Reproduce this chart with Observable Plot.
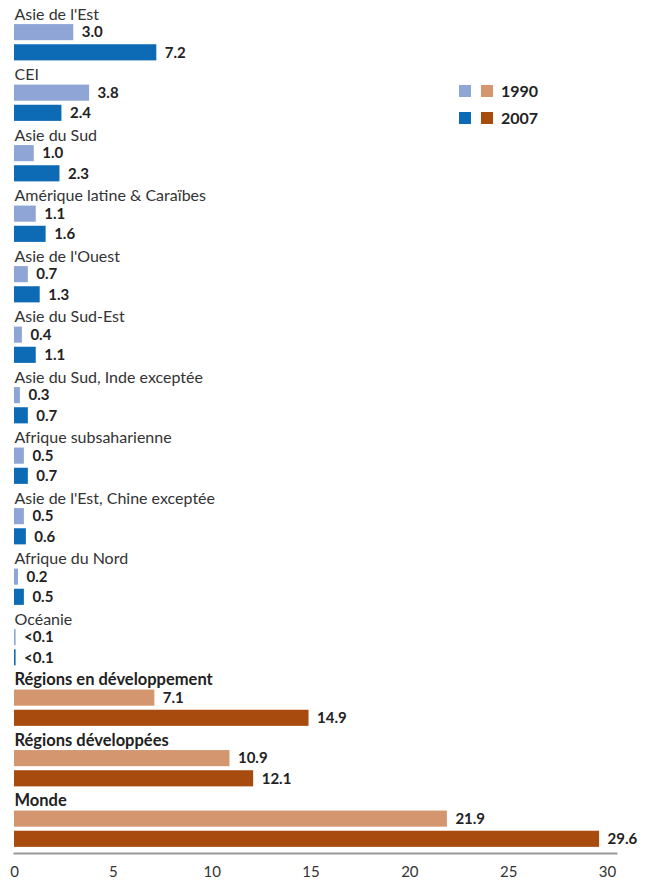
<!DOCTYPE html>
<html><head><meta charset="utf-8">
<script src="https://cdn.jsdelivr.net/npm/d3@7"></script>
<script src="https://cdn.jsdelivr.net/npm/@observablehq/plot@0.6"></script>
<style>
body{margin:0;background:#fff;}
#wrap{position:relative;width:646px;height:884px;font-family:Lato,"Open Sans",sans-serif;}
.lg{position:absolute;display:flex;align-items:center;font-weight:bold;font-size:16px;color:#222;}
.sw{width:12px;height:12px;display:inline-block;margin-right:10px;}
</style>
</head><body><div id="wrap"></div>
<script>
const regions = ["Asie de l'Est","CEI","Asie du Sud","Amérique latine & Caraïbes","Asie de l'Ouest","Asie du Sud-Est","Asie du Sud, Inde exceptée","Afrique subsaharienne","Asie de l'Est, Chine exceptée","Afrique du Nord","Océanie","Régions en développement","Régions développées","Monde"];
const aggregate = [false,false,false,false,false,false,false,false,false,false,false,true,true,true];
const v1990 = [3.0,3.8,1.0,1.1,0.7,0.4,0.3,0.5,0.5,0.2,0.08,7.1,10.9,21.9];
const v2007 = [7.2,2.4,2.3,1.6,1.3,1.1,0.7,0.7,0.6,0.5,0.08,14.9,12.1,29.6];
const l1990 = ["3.0","3.8","1.0","1.1","0.7","0.4","0.3","0.5","0.5","0.2","<0.1","7.1","10.9","21.9"];
const l2007 = ["7.2","2.4","2.3","1.6","1.3","1.1","0.7","0.7","0.6","0.5","<0.1","14.9","12.1","29.6"];
const years = ["1990","2007"];
const xTicks = [0,5,10,15,20,25,30];

const colorDomain = ["r1990","r2007","a1990","a2007"];
const colorRange = ["#8fa5d5","#0d6ab4","#d3966e","#a84b0f"];

const rows = regions.map((name,i)=>({g:i,name,agg:aggregate[i]}));
const bars = [];
regions.forEach((name,i)=>{
  bars.push({g:i,year:"1990",off:0.9,value:v1990[i],label:l1990[i],key:(aggregate[i]?"a":"r")+"1990"});
  bars.push({g:i,year:"2007",off:1.9,value:v2007[i],label:l2007[i],key:(aggregate[i]?"a":"r")+"2007"});
});

const chart = Plot.plot({
  width:646, height:884,
  marginLeft:14, marginRight:30, marginTop:0, marginBottom:31,
  style:{fontFamily:"Lato, 'Open Sans', sans-serif", fontSize:"15px", background:"#fff", color:"#333"},
  x:{domain:[0,30], range:[14,607], label:null},
  y:{domain:[0,40.9], range:[14,838.8], axis:null},
  color:{domain:colorDomain, range:colorRange},
  marks:[
    Plot.rectX(bars,{x1:0,x2:"value",y1:d=>d.g*3+d.off-0.4,y2:d=>d.g*3+d.off+0.4,fill:"key"}),
    Plot.text(rows.filter(d=>!d.agg),{x:0,y:d=>d.g*3,text:"name",textAnchor:"start",fontSize:16,fill:"#333"}),
    Plot.text(rows.filter(d=>d.agg),{x:0,y:d=>d.g*3,text:"name",textAnchor:"start",fontSize:16.5,fontWeight:"bold",fill:"#222"}),
    Plot.text(bars,{x:"value",y:d=>d.g*3+d.off,text:"label",dx:8,textAnchor:"start",fontSize:15,fontWeight:"bold",fill:"#222"}),
    Plot.frame({anchor:"bottom",stroke:"#999",strokeWidth:2}),
    Plot.axisX({ticks:xTicks,tickSize:0,tickPadding:13,fontSize:15,fill:"#333",label:null})
  ]
});
const wrap = document.getElementById("wrap");
wrap.appendChild(chart);
years.forEach((y,i)=>{
  const d = document.createElement("div");
  d.className="lg";
  d.style.left="459px"; d.style.top=(81+i*27)+"px";
  d.innerHTML = `<span class="sw" style="background:${colorRange[i]}"></span><span class="sw" style="background:${colorRange[i+2]};margin-right:8px"></span>${y}`;
  wrap.appendChild(d);
});
</script>
</body></html>
